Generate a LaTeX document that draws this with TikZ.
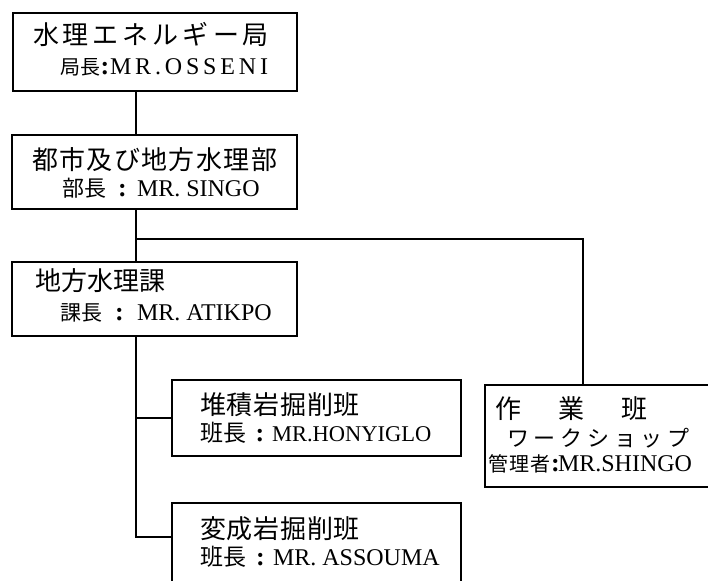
\documentclass[tikz,border=0pt]{standalone}
\usepackage{fontspec}
\setmainfont{Liberation Serif}
\newfontfamily\jp{Noto Sans CJK JP}
\ExplSyntaxOn
\NewDocumentCommand\spaced{mm}{\tl_map_inline:nn {#2}{\makebox[#1][l]{##1}}}
\ExplSyntaxOff
% #1 size, #2 pitch, #3 text
\newcommand\jpline[3]{{\jp\fontsize{#1}{#1}\selectfont\spaced{#2pt}{#3}}}
% #1 prefix width, #2 jp size, #3 jp pitch, #4 jp text, #5 latin size, #6 letterspace, #7 latin text
\newcommand\headline[7]{\makebox[#1pt][l]{\jpline{#2}{#3}{#4}\hfill{\fontsize{26}{26}\selectfont\bfseries :}\hfill}{\fontsize{#5}{#5}\selectfont\addfontfeature{LetterSpace=#6}#7}}
\tikzset{
  box/.style={draw, line width=1.3pt, rectangle, inner sep=0pt},
  conn/.style={line width=2pt},
  txt/.style={anchor=base west, inner sep=0pt, outer sep=0pt},
}
\begin{document}
\begin{tikzpicture}[x=1pt,y=-1pt]
\useasboundingbox (0,0) rectangle (708,580);
% boxes
\node[box, minimum width=284pt, minimum height=78pt] (b1) at (155,52) {};
\node[box, minimum width=285pt, minimum height=74pt] (b2) at (154.5,172) {};
\node[box, minimum width=285pt, minimum height=74pt] (b3) at (154.5,299) {};
\node[box, minimum width=289pt, minimum height=76pt] (b4) at (316.5,418) {};
\node[box, minimum width=289pt, minimum height=87pt] (b5) at (316.5,546.5) {};
\node[box, minimum width=235pt, minimum height=102pt] (b6) at (602.5,436) {};
% texts
\node[txt] (t1a) at (33,45) {\jpline{26}{30}{水理エネルギー局}};
\node[txt] (t1b) at (60,75) {\headline{50}{20}{20}{局長}{24}{16}{MR.OSSENI}};
\node[txt] (t2a) at (32,169) {\jpline{26}{27.4}{^^^^90fd^^^^5e02^^^^53ca^^^^3073^^^^5730^^^^65b9^^^^6c34^^^^7406^^^^90e8}};
\node[txt] (t2b) at (62,196) {\headline{75}{22}{23}{部長}{24}{0}{MR. SINGO}};
\node[txt] (t3a) at (35,290) {\jpline{26}{26}{地方水理課}};
\node[txt] (t3b) at (60,320) {\headline{77}{21}{21}{課長}{24}{0}{MR. ATIKPO}};
\node[txt] (t4a) at (200,414) {\jpline{26}{26.8}{堆積岩掘削班}};
\node[txt] (t4b) at (200,441) {\headline{72}{23}{24}{班長}{22.5}{0}{MR.HONYIGLO}};
\node[txt] (t5a) at (200,538) {\jpline{26}{26.8}{変成岩掘削班}};
\node[txt] (t5b) at (200,565) {\headline{73}{23}{24}{班長}{24}{0}{MR. ASSOUMA}};
\node[txt] (t6a) at (495,418) {\jpline{26}{31.5}{作　業　班}};
\node[txt] (t6b) at (507,446) {\jpline{22}{26.8}{ワークショップ}};
\node[txt] (t6c) at (488,471) {\headline{70}{20}{21}{管理者}{24}{0}{MR.SHINGO}};
% connectors
\coordinate (j1) at (136,239);
\coordinate (t6) at (583,239);
\coordinate (k5) at (136,537);
\draw[conn] (b1.south -| j1) -- (b2.north -| j1);
\draw[conn] (b2.south -| j1) -- (b3.north -| j1);
\draw[conn] (j1) -- (t6) -- (b6.north -| t6);
\draw[conn] (b3.south -| k5) -- (k5) -- (b5.west |- k5);
\draw[conn] (b4.west -| k5) -- (b4.west);
\end{tikzpicture}
\end{document}
